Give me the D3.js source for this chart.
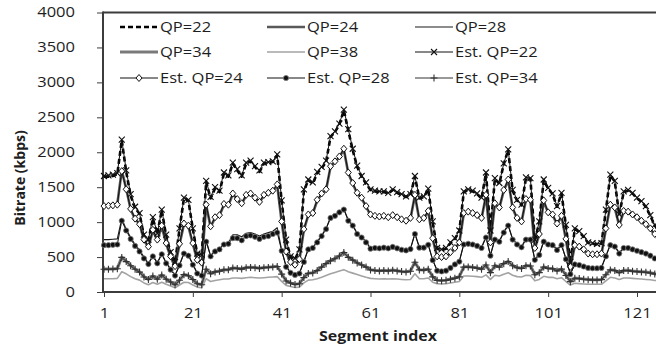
<!DOCTYPE html>
<html>
<head>
<meta charset="utf-8">
<script src="https://cdn.jsdelivr.net/npm/d3@7"></script>
<style>
  html, body { margin: 0; padding: 0; background: #fff; }
  svg { display: block; font-family: "Open Sans", sans-serif; }
</style>
</head>
<body>
<svg id="chart" width="656" height="349"></svg>
<script>
// Segment indices (categories) and axis ticks
const segments = d3.range(1, 127);
const xTickValues = [1, 21, 41, 61, 81, 101, 121];
const yTickValues = [0, 500, 1000, 1500, 2000, 2500, 3000, 3500, 4000];

// Measured bitrate per segment (kbps)
const qp22 = [
  1650, 1650, 1660, 1690, 2170, 1720, 1380, 1200, 1120, 800,
  740, 1050, 830, 1170, 800, 560, 420, 900, 1340, 1310,
  900, 540, 520, 1576, 1340, 1480, 1430, 1695, 1650, 1838,
  1740, 1650, 1838, 1870, 1790, 1720, 1838, 1850, 1860, 1957,
  1300, 740, 500, 470, 600, 1450, 1600, 1550, 1700, 1770,
  1860, 2220, 2290, 2400, 2600, 2310, 2030, 1790, 1650, 1550,
  1460, 1440, 1430, 1430, 1410, 1460, 1420, 1385, 1360, 1385,
  1650, 1340, 1360, 1470, 1000, 620, 600, 620, 700, 760,
  870, 1430, 1460, 1440, 1400, 1340, 1700, 870, 1620, 1550,
  1830, 2030, 1450, 1310, 1240, 1630, 1620, 740, 1000, 1600,
  1480, 1400, 1220, 1410, 950, 420, 900, 860, 790, 700,
  690, 680, 690, 1170, 1670, 1580, 1100, 1430, 1450, 1410,
  1340, 1290, 1220, 1090, 950, 860
];
const qp24 = [
  1240, 1240, 1250, 1260, 1740, 1480, 1180, 1040, 980, 740,
  640, 880, 740, 940, 690, 500, 360, 680, 970, 940,
  690, 450, 410, 1240, 930, 1060, 1090, 1250, 1240, 1400,
  1320, 1260, 1380, 1400, 1340, 1280, 1380, 1410, 1440, 1530,
  1000, 570, 420, 380, 460, 890, 1100, 1120, 1310, 1400,
  1460, 1790, 1860, 1930, 2040, 1700, 1550, 1410, 1340, 1220,
  1100, 1080, 1070, 1080, 1060, 1090, 1060, 1030, 1010, 1050,
  1380, 1030, 1050, 1150, 760, 500, 490, 500, 560, 620,
  700, 1120, 1140, 1120, 1090, 1050, 1380, 700, 1260, 1200,
  1450, 1600, 1200, 1050, 1000, 1320, 1310, 620, 820, 1300,
  1130, 1100, 970, 1080, 750, 350, 660, 640, 600, 540,
  530, 530, 540, 900, 1240, 1200, 950, 1150, 1140, 1100,
  1060, 1010, 960, 900, 820, 760
];
const qp28 = [
  750, 750, 755, 760, 1050, 900, 780, 680, 600, 500,
  410, 520, 420, 550, 420, 330, 240, 390, 560, 530,
  400, 270, 240, 740, 520, 590, 620, 690, 700, 820,
  820, 790, 840, 850, 830, 800, 830, 850, 870, 920,
  600, 370, 280, 250, 270, 440, 620, 640, 720, 810,
  910, 1070, 1100, 1150, 1190, 1030, 960, 840, 790, 720,
  630, 640, 630, 640, 630, 650, 630, 610, 600, 620,
  840, 640, 640, 680, 460, 310, 300, 310, 350, 400,
  440, 690, 700, 690, 670, 640, 790, 530, 760, 730,
  860, 960, 760, 690, 650, 760, 760, 470, 540, 730,
  690, 680, 610, 680, 480, 260, 400, 390, 370, 350,
  345, 345, 350, 520, 680, 660, 560, 640, 640, 620,
  600, 580, 560, 530, 490, 460
];
const qp34 = [
  330, 330, 330, 335, 500, 440, 380, 330, 290, 220,
  180, 230, 185, 245, 185, 145, 105, 170, 250, 235,
  180, 120, 105, 330, 265, 290, 300, 320, 320, 345,
  340, 330, 350, 355, 350, 340, 350, 355, 360, 370,
  260, 160, 130, 110, 120, 210, 270, 275, 310, 360,
  410, 450, 480, 520, 570, 500, 460, 420, 390, 360,
  320, 310, 305, 310, 305, 315, 305, 295, 290, 300,
  430, 320, 315, 330, 220, 170, 165, 170, 185, 200,
  220, 360, 360, 355, 345, 330, 390, 280, 380, 360,
  410, 440, 380, 350, 340, 380, 375, 250, 280, 360,
  340, 335, 305, 330, 240, 150, 200, 195, 185, 180,
  175, 175, 180, 250, 320, 310, 280, 310, 310, 300,
  295, 290, 285, 275, 260, 250
];
const qp38 = [
  190, 190, 190, 195, 290, 260, 220, 190, 170, 130,
  105, 135, 110, 140, 110, 85, 60, 100, 140, 135,
  100, 70, 60, 190, 150, 165, 175, 185, 185, 200,
  200, 195, 205, 210, 205, 200, 205, 210, 215, 220,
  150, 95, 80, 65, 70, 130, 170, 175, 190, 210,
  235, 260, 280, 300, 320, 290, 270, 250, 230, 210,
  195, 190, 185, 190, 185, 190, 185, 180, 175, 180,
  260, 190, 190, 200, 140, 120, 115, 120, 130, 140,
  150, 230, 230, 225, 220, 210, 245, 180, 240, 230,
  255, 275, 240, 220, 215, 240, 235, 160, 180, 225,
  210, 210, 190, 205, 150, 100, 125, 120, 115, 110,
  110, 110, 110, 160, 210, 200, 180, 200, 200, 195,
  190, 185, 180, 175, 165, 160
];

// Estimated bitrate per segment (kbps)
const est22 = [
  1660, 1670, 1680, 1700, 2180, 1740, 1400, 1220, 1130, 820,
  750, 1070, 840, 1180, 820, 570, 430, 910, 1350, 1320,
  910, 550, 530, 1590, 1360, 1500, 1450, 1710, 1670, 1850,
  1760, 1670, 1850, 1880, 1800, 1740, 1850, 1860, 1870, 1970,
  1310, 750, 510, 480, 610, 1470, 1610, 1570, 1720, 1790,
  1880, 2230, 2300, 2410, 2610, 2330, 2050, 1810, 1660, 1570,
  1470, 1450, 1440, 1440, 1420, 1470, 1430, 1400, 1370, 1400,
  1660, 1350, 1370, 1480, 1010, 630, 610, 630, 710, 770,
  880, 1440, 1470, 1450, 1410, 1350, 1710, 880, 1630, 1560,
  1840, 2040, 1460, 1320, 1250, 1640, 1630, 750, 1010, 1610,
  1490, 1410, 1230, 1420, 960, 430, 910, 870, 800, 710,
  700, 690, 700, 1180, 1680, 1590, 1110, 1440, 1460, 1420,
  1350, 1300, 1230, 1100, 960, 870
];
const est24 = [
  1230, 1235, 1240, 1250, 1730, 1470, 1190, 1050, 970, 750,
  650, 890, 750, 950, 700, 510, 370, 690, 980, 950,
  700, 460, 420, 1250, 940, 1070, 1100, 1260, 1250, 1410,
  1330, 1270, 1390, 1410, 1350, 1290, 1390, 1420, 1450, 1540,
  1010, 580, 430, 390, 470, 900, 1110, 1130, 1320, 1410,
  1470, 1800, 1870, 1940, 2050, 1710, 1560, 1420, 1350, 1230,
  1110, 1090, 1080, 1090, 1070, 1100, 1070, 1040, 1020, 1060,
  1390, 1040, 1060, 1160, 770, 510, 500, 510, 570, 630,
  710, 1130, 1150, 1130, 1100, 1060, 1390, 710, 1270, 1210,
  1460, 1610, 1210, 1060, 1010, 1330, 1320, 630, 830, 1310,
  1140, 1110, 980, 1090, 760, 360, 670, 650, 610, 550,
  540, 540, 550, 910, 1250, 1210, 960, 1160, 1150, 1110,
  1070, 1020, 970, 910, 830, 770
];
const est28 = [
  670, 670, 675, 680, 1020, 880, 760, 660, 580, 480,
  400, 510, 410, 540, 410, 320, 235, 380, 550, 520,
  390, 265, 235, 720, 510, 580, 610, 680, 690, 770,
  770, 740, 800, 810, 790, 760, 790, 800, 830, 850,
  590, 360, 275, 245, 265, 430, 610, 630, 710, 800,
  900, 1060, 1090, 1140, 1180, 1020, 950, 830, 780, 710,
  620, 630, 625, 635, 625, 645, 625, 605, 595, 615,
  830, 635, 635, 675, 455, 305, 295, 305, 345, 395,
  435, 680, 690, 680, 660, 630, 780, 520, 750, 720,
  850, 950, 750, 680, 640, 750, 750, 460, 530, 720,
  680, 670, 600, 670, 470, 255, 395, 385, 365, 345,
  340, 340, 345, 510, 670, 650, 550, 630, 630, 610,
  590, 570, 550, 520, 480, 450
];
const est34 = [
  325, 325, 328, 332, 495, 435, 375, 325, 285, 215,
  178, 228, 182, 242, 182, 143, 103, 168, 248, 232,
  178, 118, 103, 326, 262, 288, 298, 318, 318, 342,
  338, 328, 348, 352, 348, 338, 348, 352, 358, 366,
  256, 158, 128, 108, 118, 206, 266, 272, 306, 356,
  406, 446, 476, 516, 566, 496, 456, 416, 386, 356,
  316, 306, 302, 306, 302, 312, 302, 292, 287, 297,
  425, 316, 312, 326, 216, 167, 162, 167, 182, 197,
  217, 356, 356, 352, 342, 327, 386, 277, 376, 356,
  406, 436, 376, 346, 337, 376, 372, 247, 277, 356,
  337, 332, 302, 327, 237, 148, 197, 192, 182, 177,
  172, 172, 177, 247, 316, 306, 277, 306, 306, 297,
  292, 287, 282, 272, 257, 247
];

const seriesNames = ["QP=22", "QP=24", "QP=28", "QP=34", "QP=38",
                     "Est. QP=22", "Est. QP=24", "Est. QP=28", "Est. QP=34"];
const seriesValues = [qp22, qp24, qp28, qp34, qp38, est22, est24, est28, est34];

// Drawing styles for each series, in drawing order
const styles = [
  { stroke: "#000000", width: 2.6, dash: "5,3" },
  { stroke: "#595959", width: 2.6 },
  { stroke: "#1a1a1a", width: 1.1 },
  { stroke: "#7a7a7a", width: 3 },
  { stroke: "#a3a3a3", width: 1.6 },
  { stroke: "#111111", width: 1, marker: "cross" },
  { stroke: "#111111", width: 1, marker: "diamond" },
  { stroke: "#111111", width: 1, marker: "dot" },
  { stroke: "#333333", width: 1, marker: "plus" }
];

const textScale = 1.18;   // horizontally widened lettering
const textColor = "#1e1e1e";
const axisColor = "#3c3c3c";

const svg = d3.select("#chart");
const plotLeft = 103, plotTop = 12.5, plotBottom = 292, plotRight = 656;

const x = d3.scaleLinear().domain([1, 121]).range([104, 637]);
const y = d3.scaleLinear().domain([0, 4000]).range([plotBottom, plotTop]);

// Axes (ticks and labels)
const yAxis = svg.append("g")
  .attr("transform", `translate(${plotLeft},0)`)
  .call(d3.axisLeft(y).tickValues(yTickValues).tickSize(6).tickFormat(d3.format("d")));
yAxis.select(".domain").remove();
yAxis.selectAll(".tick line").attr("stroke", axisColor).attr("stroke-width", 1);
yAxis.selectAll(".tick text")
  .attr("x", null)
  .attr("transform", `translate(-28,0) scale(${textScale},1)`)
  .attr("font-size", 14).attr("fill", textColor)
  .attr("font-family", "'Open Sans', sans-serif");

const xAxis = svg.append("g")
  .attr("transform", `translate(0,${plotBottom})`)
  .call(d3.axisBottom(x).tickValues(xTickValues).tickSize(5).tickFormat(d3.format("d")));
xAxis.select(".domain").remove();
xAxis.selectAll(".tick line").attr("stroke", axisColor).attr("stroke-width", 1);
xAxis.selectAll(".tick text")
  .attr("y", null)
  .attr("transform", `translate(0,16) scale(${textScale},1)`)
  .attr("font-size", 14).attr("fill", textColor)
  .attr("font-family", "'Open Sans', sans-serif");

// Plot area frame
svg.append("line").attr("x1", plotLeft).attr("x2", plotRight)
  .attr("y1", plotTop).attr("y2", plotTop)
  .attr("stroke", axisColor).attr("stroke-width", 2);
svg.append("line").attr("x1", plotLeft).attr("x2", plotRight)
  .attr("y1", plotBottom).attr("y2", plotBottom)
  .attr("stroke", axisColor).attr("stroke-width", 2);
svg.append("line").attr("x1", plotLeft).attr("x2", plotLeft)
  .attr("y1", plotTop - 1).attr("y2", plotBottom + 1)
  .attr("stroke", axisColor).attr("stroke-width", 2);

// Axis titles
svg.append("text")
  .attr("transform", `translate(378,341) scale(1.14,1)`)
  .attr("text-anchor", "middle").attr("font-size", 14).attr("font-weight", "bold")
  .attr("fill", textColor).text("Segment index");
svg.append("text")
  .attr("transform", `translate(25,178) rotate(-90)`)
  .attr("text-anchor", "middle").attr("font-size", 14).attr("font-weight", "bold")
  .attr("fill", textColor).text("Bitrate (kbps)");

// Marker shapes
function markerPath(type, cx, cy) {
  if (type === "cross") return `M${cx-3},${cy-3}L${cx+3},${cy+3}M${cx-3},${cy+3}L${cx+3},${cy-3}`;
  if (type === "plus") return `M${cx-3.5},${cy}L${cx+3.5},${cy}M${cx},${cy-3.5}L${cx},${cy+3.5}`;
  if (type === "diamond") return `M${cx},${cy-3.5}L${cx+3},${cy}L${cx},${cy+3.5}L${cx-3},${cy}Z`;
  return null;
}
function drawMarker(g, type, cx, cy, stroke) {
  if (type === "dot") {
    g.append("circle").attr("cx", cx).attr("cy", cy).attr("r", 2.6)
      .attr("fill", "#111").attr("stroke", "#7a7a7a").attr("stroke-width", 0.8);
  } else if (type === "diamond") {
    g.append("path").attr("d", markerPath(type, cx, cy))
      .attr("fill", "#fff").attr("stroke", stroke).attr("stroke-width", 1);
  } else {
    g.append("path").attr("d", markerPath(type, cx, cy))
      .attr("fill", "none").attr("stroke", stroke).attr("stroke-width", 1.1);
  }
}

// Series lines and markers
const line = d3.line().x((d, i) => x(segments[i])).y(d => y(d));
const plot = svg.append("g");
seriesValues.forEach((vals, k) => {
  const st = styles[k];
  const g = plot.append("g");
  g.append("path").datum(vals)
    .attr("d", line)
    .attr("fill", "none")
    .attr("stroke", st.stroke)
    .attr("stroke-width", st.width)
    .attr("stroke-linejoin", "round")
    .attr("stroke-dasharray", st.dash || null);
  if (st.marker) {
    vals.forEach((v, i) => drawMarker(g, st.marker, x(segments[i]), y(v), st.stroke));
  }
});

// Legend: three columns, three rows
const legendCols = [120, 267, 415];
const legendRows = [27, 52, 78];
const legend = svg.append("g");
seriesNames.forEach((name, k) => {
  const st = styles[k];
  const lx = legendCols[k % 3], ly = legendRows[Math.floor(k / 3)];
  const g = legend.append("g");
  g.append("line").attr("x1", lx).attr("x2", lx + 38).attr("y1", ly).attr("y2", ly)
    .attr("stroke", st.stroke).attr("stroke-width", st.width)
    .attr("stroke-dasharray", st.dash || null);
  if (st.marker) drawMarker(g, st.marker, lx + 19, ly, st.stroke);
  g.append("text")
    .attr("transform", `translate(${lx + 40},${ly + 5}) scale(${textScale},1)`)
    .attr("font-size", 14).attr("fill", textColor).text(name);
});
</script>
</body>
</html>
